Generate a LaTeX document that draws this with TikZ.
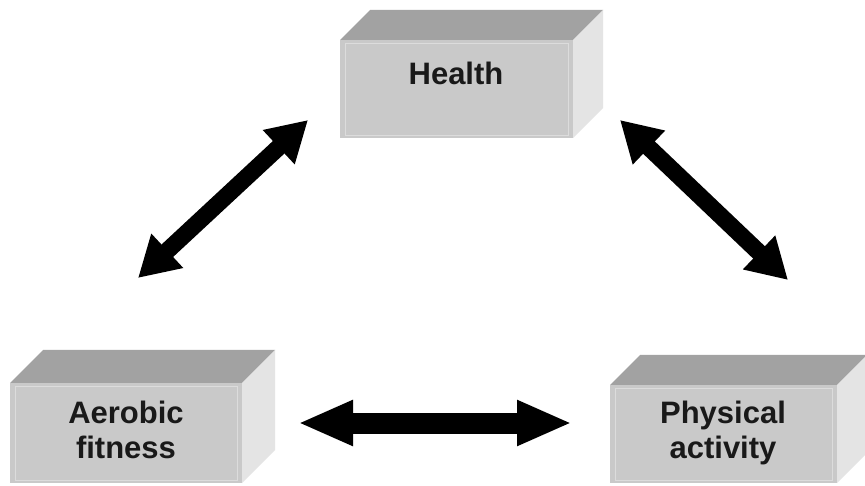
\documentclass[tikz,border=0pt]{standalone}
\usepackage{fontspec}
\setmainfont{Liberation Sans}
\usetikzlibrary{arrows.meta}
\definecolor{topc}{HTML}{A2A2A2}
\definecolor{frontc}{HTML}{C9C9C9}
\definecolor{sidec}{HTML}{E4E4E4}
\tikzset{
  lbl/.style={font=\fontsize{31}{35}\selectfont\bfseries, align=center, text=black!90, inner sep=0pt},
  dblarrow/.style={line width=17pt, draw=black, {Triangle[length=40pt,width=44pt]}-{Triangle[length=40pt,width=44pt]}},
  harrow/.style={line width=21pt, draw=black, {Triangle[length=55pt,width=42pt]}-{Triangle[length=55pt,width=42pt]}},
}
% box: front face x1,y1 (top-left), x2,y2 (bottom-right), depth d
\newcommand{\gbox}[5]{%
  \fill[topc] (#1,#2) -- ++(#5,-#5) -- (#3+#5,#2-#5) -- (#3,#2) -- cycle;
  \fill[sidec] (#3,#2) -- (#3+#5,#2-#5) -- (#3+#5,#4-#5) -- (#3,#4) -- cycle;
  \fill[frontc] (#1,#2) rectangle (#3,#4);
  \draw[white!35!frontc, line width=0.8pt] (#1+5,#2+3) rectangle (#3-5,#4-3);
}
\begin{document}
\begin{tikzpicture}[x=1pt,y=-1pt]
\useasboundingbox[fill=white] (0,0) rectangle (865,486);
\gbox{340}{40}{573}{138}{30}
\gbox{10}{383}{242}{483}{33}
\gbox{610}{385}{837}{483}{30}
\node[lbl, anchor=base] (health) at (456,85) {Health};
\node[lbl] (aerobic) at (126,430) {Aerobic\\fitness};
\node[lbl] (physical) at (723,433) {Physical\\activity};
\coordinate (hl) at (308,120);
\coordinate (al) at (138,278);
\coordinate (hr) at (620,120);
\coordinate (pr) at (788,280);
\coordinate (ah) at (298,423);
\coordinate (ph) at (572,423);
\draw[dblarrow] (al) -- (hl);
\draw[dblarrow] (hr) -- (pr);
\draw[harrow] (ah) -- (ph);
\end{tikzpicture}
\end{document}
